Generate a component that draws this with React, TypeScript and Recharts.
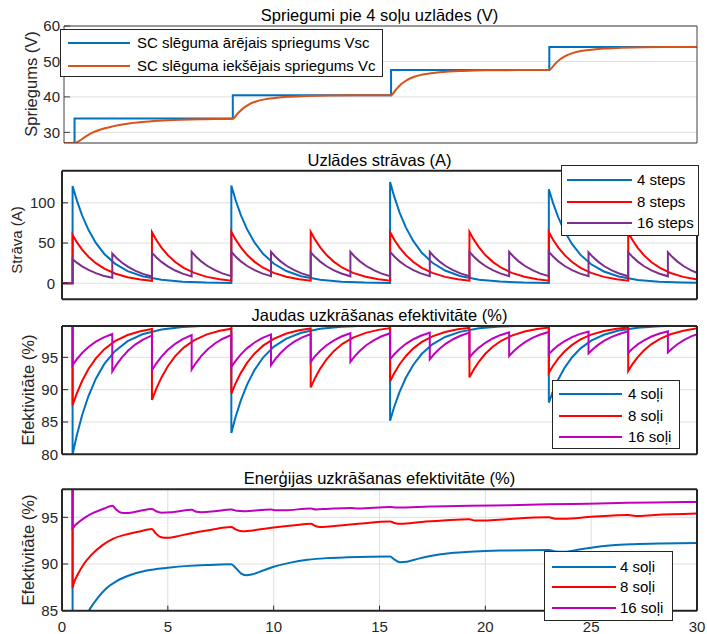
import { LineChart, Line, XAxis, YAxis, CartesianGrid, Legend } from 'recharts'

type Pt = [number, number]
type Row = { t: number; v: number }

const W = 707
const H = 634
const PLOT_R = 697

const xTicks = [0, 5, 10, 15, 20, 25, 30]

const titles = [
  'Spriegumi pie 4 soļu uzlādes (V)',
  'Uzlādes strāvas (A)',
  'Jaudas uzkrāšanas efektivitāte (%)',
  'Enerģijas uzkrāšanas efektivitāte (%)',
]
const yLabels = ['Spriegums (V)', 'Strāva (A)', 'Efektivitāte (%)', 'Efektivitāte (%)']
const voltNames = ['SC slēguma ārējais spriegums Vsc', 'SC slēguma iekšējais spriegums Vc']
const stepNames = ['4 steps', '8 steps', '16 steps']
const soliNames = ['4 soļi', '8 soļi', '16 soļi']

// --- panel 1: voltages
const vscPts: Pt[] = [
  [0, 27], [0.5, 27], [0.5, 33.9], [8, 33.9], [8, 40.5], [15.5, 40.5],
  [15.5, 47.6], [23, 47.6], [23, 54.1], [30, 54.1],
]
const vcPts: Pt[] = [
  [0, 27], [0.5, 27], [0.75, 27.69], [1, 28.73], [1.3, 29.76], [1.7, 30.73], [2.3, 31.69],
  [3, 32.45], [3.7, 32.93], [4.5, 33.28], [5.5, 33.56], [6.5, 33.73], [8, 33.87],
  [8.25, 35.45], [8.5, 36.84], [8.75, 37.84], [9.1, 38.7], [9.5, 39.3], [10, 39.7],
  [10.6, 40.03], [11.4, 40.23], [12.5, 40.4], [14, 40.47], [15.5, 40.5],
  [15.75, 42.2], [16, 43.7], [16.25, 44.76], [16.6, 45.68], [17, 46.32], [17.5, 46.75],
  [18.1, 47.1], [18.9, 47.32], [20, 47.5], [21.5, 47.56], [23, 47.6],
  [23.25, 49.16], [23.5, 50.53], [23.75, 51.5], [24.1, 52.35], [24.5, 52.93], [25, 53.32],
  [25.6, 53.65], [26.4, 53.84], [27.5, 54.0], [29, 54.07], [30, 54.1],
]

// step start times and sample offsets inside one step
const steps4 = [0.5, 8, 15.5, 23]
const steps8 = [0.5, 4.25, 8, 11.75, 15.5, 19.25, 23, 26.75]
const steps16 = [0.5, 2.375, 4.25, 6.125, 8, 9.875, 11.75, 13.625, 15.5, 17.375, 19.25, 21.125, 23, 24.875, 26.75, 28.625]
const dt4 = [0, 0.2, 0.45, 0.75, 1.1, 1.5, 2, 2.6, 3.3, 4.2, 5.2, 6.3, 7.5]
const dt8 = [0, 0.2, 0.45, 0.75, 1.1, 1.5, 2, 2.6, 3.2, 3.75]
const dt16 = [0, 0.2, 0.45, 0.75, 1.1, 1.45, 1.875]

// --- panel 2: currents, one row per step
const cur4Segs = [
  [121, 103.1, 84.5, 66.4, 50.2, 36.4, 24.4, 15.1, 8.6, 4.2, 1.9, 0.8, 0.3],
  [121.5, 103.5, 84.8, 66.7, 50.4, 36.6, 24.5, 15.2, 8.7, 4.2, 1.9, 0.8, 0.3],
  [126, 107.4, 87.9, 69.2, 52.3, 37.9, 25.5, 15.8, 9.0, 4.4, 2.0, 0.8, 0.3],
  [117, 99.7, 81.7, 64.2, 48.6, 35.2, 23.6, 14.6, 8.4, 4.1, 1.8, 0.8, 0.3],
]
const cur8Segs = [
  [60, 51.1, 41.9, 32.9, 24.9, 18.1, 12.1, 7.5, 4.6, 3.0],
  [63.5, 54.1, 44.3, 34.9, 26.4, 19.1, 12.8, 7.9, 4.9, 3.2],
  [64, 54.5, 44.7, 35.1, 26.6, 19.3, 12.9, 8.0, 4.9, 3.2],
  [64, 54.5, 44.7, 35.1, 26.6, 19.3, 12.9, 8.0, 4.9, 3.2],
  [63.5, 54.1, 44.3, 34.9, 26.4, 19.1, 12.8, 7.9, 4.9, 3.2],
  [64, 54.5, 44.7, 35.1, 26.6, 19.3, 12.9, 8.0, 4.9, 3.2],
  [63.5, 54.1, 44.3, 34.9, 26.4, 19.1, 12.8, 7.9, 4.9, 3.2],
  [63, 53.7, 44.0, 34.6, 26.1, 19.0, 12.7, 7.9, 4.9, 3.1],
]
const cur16Segs = [
  [30, 25.6, 20.9, 16.5, 12.5, 9.4, 6.7],
  [37, 31.5, 25.8, 20.3, 15.4, 11.6, 8.3],
  [38, 32.4, 26.5, 20.9, 15.8, 11.9, 8.5],
  [39, 33.2, 27.2, 21.4, 16.2, 12.2, 8.7],
  [39, 33.2, 27.2, 21.4, 16.2, 12.2, 8.7],
  [39, 33.2, 27.2, 21.4, 16.2, 12.2, 8.7],
  [38.5, 32.8, 26.9, 21.1, 16.0, 12.1, 8.6],
  [39, 33.2, 27.2, 21.4, 16.2, 12.2, 8.7],
  [39, 33.2, 27.2, 21.4, 16.2, 12.2, 8.7],
  [39, 33.2, 27.2, 21.4, 16.2, 12.2, 8.7],
  [39, 33.2, 27.2, 21.4, 16.2, 12.2, 8.7],
  [39, 33.2, 27.2, 21.4, 16.2, 12.2, 8.7],
  [39, 33.2, 27.2, 21.4, 16.2, 12.2, 8.7],
  [38.5, 32.8, 26.9, 21.1, 16.0, 12.1, 8.6],
  [38.5, 32.8, 26.9, 21.1, 16.0, 12.1, 8.6],
  [38.5, 32.8, 26.9, 21.1, 16.0, 12.1, 8.6],
]

// --- panel 3: power efficiency, one row per step
const eff4Segs = [
  [80, 82.96, 86.04, 89.02, 91.7, 93.98, 95.96, 97.5, 98.57, 99.31, 99.69, 99.87, 99.95],
  [83.3, 85.77, 88.34, 90.83, 93.07, 94.97, 96.63, 97.91, 98.81, 99.42, 99.74, 99.89, 99.96],
  [85.2, 87.39, 89.67, 91.87, 93.86, 95.55, 97.01, 98.15, 98.94, 99.49, 99.77, 99.9, 99.96],
  [88, 89.78, 91.62, 93.41, 95.02, 96.39, 97.58, 98.5, 99.14, 99.58, 99.81, 99.92, 99.97],
]
const eff8Segs = [
  [87.6, 89.43, 91.34, 93.19, 94.85, 96.27, 97.5, 98.45, 99.04, 99.38],
  [88.4, 90.12, 91.9, 93.63, 95.19, 96.51, 97.66, 98.55, 99.1, 99.42],
  [89.4, 90.97, 92.6, 94.18, 95.6, 96.81, 97.86, 98.68, 99.18, 99.47],
  [90.35, 91.78, 93.26, 94.7, 95.99, 97.1, 98.05, 98.79, 99.25, 99.52],
  [91.3, 92.59, 93.93, 95.22, 96.39, 97.38, 98.24, 98.91, 99.33, 99.57],
  [91.9, 93.1, 94.35, 95.55, 96.64, 97.56, 98.36, 98.99, 99.37, 99.6],
  [92.6, 93.7, 94.83, 95.94, 96.93, 97.77, 98.51, 99.08, 99.43, 99.63],
  [92.9, 93.95, 95.04, 96.1, 97.05, 97.86, 98.57, 99.11, 99.45, 99.65],
]
const eff16Segs = [
  [93.8, 94.72, 95.67, 96.6, 97.43, 98.06, 98.62],
  [92.8, 93.87, 94.97, 96.05, 97.01, 97.75, 98.39],
  [93.0, 94.04, 95.11, 96.16, 97.1, 97.81, 98.44],
  [93.1, 94.12, 95.18, 96.21, 97.14, 97.84, 98.46],
  [93.5, 94.46, 95.46, 96.43, 97.3, 97.97, 98.55],
  [93.8, 94.72, 95.67, 96.6, 97.43, 98.06, 98.62],
  [94.3, 95.14, 96.02, 96.87, 97.63, 98.22, 98.73],
  [94.3, 95.14, 96.02, 96.87, 97.63, 98.22, 98.73],
  [94.7, 95.48, 96.3, 97.09, 97.8, 98.34, 98.82],
  [94.7, 95.48, 96.3, 97.09, 97.8, 98.34, 98.82],
  [95.0, 95.74, 96.51, 97.25, 97.92, 98.43, 98.88],
  [95.2, 95.91, 96.65, 97.36, 98.01, 98.5, 98.93],
  [95.5, 96.17, 96.86, 97.53, 98.13, 98.59, 99.0],
  [95.6, 96.25, 96.93, 97.58, 98.17, 98.62, 99.02],
  [95.7, 96.34, 97.0, 97.64, 98.22, 98.65, 99.04],
  [95.75, 96.38, 97.03, 97.67, 98.24, 98.67, 99.05],
]

// --- panel 4: energy efficiency
const en4Pts: Pt[] = [
  [0.5, 100], [0.5, 80], [0.55, 80.5], [0.7, 81.8], [0.9, 83.2], [1.1, 84.3], [1.35, 85.3],
  [1.7, 86.4], [2.1, 87.4], [2.6, 88.2], [3.2, 88.8], [4, 89.3], [5, 89.6], [6, 89.8],
  [7, 89.9], [8, 89.97], [8.2, 89.6], [8.45, 89.0], [8.7, 88.8], [9, 88.9], [9.5, 89.3],
  [10, 89.7], [10.8, 90.15], [11.6, 90.45], [12.5, 90.63], [13.5, 90.72], [15.5, 90.8],
  [15.7, 90.5], [15.95, 90.2], [16.3, 90.25], [16.8, 90.55], [17.4, 90.85], [18.3, 91.15],
  [19.5, 91.35], [21, 91.45], [23, 91.5], [23.3, 91.35], [23.7, 91.3], [24.2, 91.45],
  [25, 91.75], [26, 92.0], [27, 92.12], [28.3, 92.2], [30, 92.25],
]
const en8Pts: Pt[] = [
  [0.5, 100], [0.5, 87.5], [0.55, 87.9], [0.75, 88.9], [1, 89.9], [1.4, 91.0], [1.9, 92.0],
  [2.4, 92.7], [3, 93.15], [3.6, 93.45], [4.25, 93.75], [4.4, 93.35], [4.65, 92.9],
  [4.95, 92.8], [5.4, 92.95], [6, 93.25], [7, 93.65], [8, 93.95], [8.2, 93.7], [8.5, 93.5],
  [9, 93.6], [10, 93.9], [11, 94.15], [11.75, 94.3], [12, 94.05], [12.3, 93.95], [13, 94.1],
  [14, 94.3], [15.5, 94.55], [15.7, 94.4], [16, 94.3], [17, 94.5], [18, 94.65], [19.25, 94.8],
  [19.5, 94.65], [20, 94.65], [21, 94.8], [23, 95.0], [23.3, 94.85], [23.7, 94.85],
  [25, 95.05], [26.75, 95.25], [27.1, 95.15], [28, 95.25], [30, 95.4],
]
const en16Pts: Pt[] = [
  [0.5, 100], [0.5, 93.75], [0.55, 93.95], [0.8, 94.5], [1.1, 95.0], [1.5, 95.5], [2, 95.95],
  [2.375, 96.25], [2.55, 95.85], [2.8, 95.5], [3.1, 95.45], [3.6, 95.65], [4.25, 95.9],
  [4.45, 95.65], [4.7, 95.5], [5.2, 95.55], [6.125, 95.8], [6.35, 95.6], [6.6, 95.55],
  [7.2, 95.65], [8, 95.85], [8.25, 95.7], [8.6, 95.65], [9.875, 95.85], [10.1, 95.75],
  [10.5, 95.75], [11.75, 95.95], [12, 95.85], [12.5, 95.9], [13.625, 96.0], [14, 95.95],
  [15.5, 96.1], [15.8, 96.05], [17.375, 96.15], [19.25, 96.25], [21.125, 96.3], [23, 96.4],
  [24.875, 96.45], [26.75, 96.55], [28.625, 96.6], [30, 96.65],
]

const toRows = (pts: Pt[]): Row[] => pts.map(([t, v]) => ({ t, v }))
const fromSteps = (lead: Pt[], starts: number[], offs: number[], segs: number[][]): Row[] => {
  const pts: Pt[] = [...lead]
  starts.forEach((t0, i) => segs[i].forEach((v, j) => pts.push([t0 + offs[j], v])))
  return toRows(pts)
}

const BLUE = '#0072BD'
const ORANGE = '#D95319'
const RED = '#FF0000'
const PURPLE = '#7E2F8E'
const MAGENTA = '#BF00BF'

interface SeriesCfg { name: string; color: string; rows: Row[]; curve: 'linear' | 'monotone' }
interface LegendCfg { left: number; top: number; width: number; height: number; rowY: number[]; lineX: [number, number]; textX: number }
interface PanelCfg {
  top: number; bottom: number; left: number
  yDomain: [number, number]; yTicks: number[]; labelGap: number
  frame: string; frameW: number; xLabels: boolean
  titleY: number; labelX: number; labelY: number; labelSize: number
  series: SeriesCfg[]; legend: LegendCfg
}

const zero: Pt[] = [[0, 0], [0.5, 0]]
const full: Pt[] = [[0.5, 100]]

const panels: PanelCfg[] = [
  {
    top: 26, bottom: 143, left: 64, yDomain: [27, 60], yTicks: [30, 40, 50, 60], labelGap: 4,
    frame: '#404040', frameW: 1, xLabels: false, titleY: 21, labelX: 37, labelY: 84, labelSize: 16.5,
    series: [
      { name: voltNames[0], color: BLUE, rows: toRows(vscPts), curve: 'linear' },
      { name: voltNames[1], color: ORANGE, rows: toRows(vcPts), curve: 'monotone' },
    ],
    legend: { left: 60, top: 29, width: 323, height: 48, rowY: [13, 35.5], lineX: [7, 69], textX: 76 },
  },
  {
    top: 170.7, bottom: 299.3, left: 62, yDomain: [-20, 140], yTicks: [0, 50, 100], labelGap: 7,
    frame: '#262626', frameW: 2, xLabels: false, titleY: 165.5, labelX: 22, labelY: 240, labelSize: 15,
    series: [
      { name: stepNames[0], color: BLUE, rows: fromSteps(zero, steps4, dt4, cur4Segs), curve: 'linear' },
      { name: stepNames[1], color: RED, rows: fromSteps(zero, steps8, dt8, cur8Segs), curve: 'linear' },
      { name: stepNames[2], color: PURPLE, rows: fromSteps(zero, steps16, dt16, cur16Segs), curve: 'linear' },
    ],
    legend: { left: 561, top: 165, width: 138, height: 71, rowY: [14, 35.7, 56.7], lineX: [5.3, 70], textX: 75 },
  },
  {
    top: 326, bottom: 454.3, left: 62, yDomain: [80, 99.85], yTicks: [80, 85, 90, 95], labelGap: 4,
    frame: '#262626', frameW: 2, xLabels: false, titleY: 320.5, labelX: 34, labelY: 390, labelSize: 16.5,
    series: [
      { name: soliNames[0], color: BLUE, rows: fromSteps(full, steps4, dt4, eff4Segs), curve: 'linear' },
      { name: soliNames[1], color: RED, rows: fromSteps(full, steps8, dt8, eff8Segs), curve: 'linear' },
      { name: soliNames[2], color: MAGENTA, rows: fromSteps(full, steps16, dt16, eff16Segs), curve: 'linear' },
    ],
    legend: { left: 552, top: 380, width: 128, height: 69, rowY: [13.3, 35, 55.5], lineX: [6, 69.4], textX: 75 },
  },
  {
    top: 489.3, bottom: 610.7, left: 62, yDomain: [85, 98], yTicks: [85, 90, 95], labelGap: 4,
    frame: '#262626', frameW: 2, xLabels: true, titleY: 483.7, labelX: 34, labelY: 550, labelSize: 16.5,
    series: [
      { name: soliNames[0], color: BLUE, rows: toRows(en4Pts), curve: 'monotone' },
      { name: soliNames[1], color: RED, rows: toRows(en8Pts), curve: 'monotone' },
      { name: soliNames[2], color: MAGENTA, rows: toRows(en16Pts), curve: 'monotone' },
    ],
    legend: { left: 544, top: 551, width: 129, height: 70, rowY: [14.7, 34.7, 55.7], lineX: [6.7, 71], textX: 75 },
  },
]

function LegendBox({ cfg, series }: { cfg: LegendCfg; series: SeriesCfg[] }) {
  return (
    <div style={{ position: 'relative', width: cfg.width, height: cfg.height, boxSizing: 'border-box', border: '1px solid #262626', background: '#fff', textAlign: 'left' }}>
      {series.map((s, i) => (
        <div key={s.name}>
          <div style={{ position: 'absolute', left: cfg.lineX[0], top: cfg.rowY[i] - 1, width: cfg.lineX[1] - cfg.lineX[0], height: 2, background: s.color }} />
          <div
            style={{
              position: 'absolute', left: cfg.textX, top: cfg.rowY[i] - 9, width: cfg.width - cfg.textX,
              height: 18, lineHeight: '18px', fontSize: 15, whiteSpace: 'nowrap', color: '#000', textAlign: 'left',
            }}
          >
            {s.name}
          </div>
        </div>
      ))}
    </div>
  )
}

function Panel({ p }: { p: PanelCfg }) {
  const tickStyle = { fontSize: 15, fill: '#262626' }
  const frame = { stroke: p.frame, strokeWidth: p.frameW }
  return (
    <div style={{ position: 'absolute', left: 0, top: 0 }}>
      <LineChart width={W} height={H} margin={{ top: p.top - 1, right: W - PLOT_R - 1, bottom: H - p.bottom - 20, left: p.left - 60 }}>
        <CartesianGrid stroke="#dfdfdf" vertical={p.xLabels} />
        <XAxis
          dataKey="t" type="number" domain={[0, 30]} ticks={xTicks} allowDataOverflow height={20}
          axisLine={frame} tickLine={p.xLabels ? { stroke: p.frame } : false} tickSize={-5} tickMargin={16}
          tick={p.xLabels ? tickStyle : false} interval={0}
        />
        <XAxis
          xAxisId="top" orientation="top" type="number" domain={[0, 30]} ticks={xTicks} allowDataOverflow height={1}
          axisLine={frame} tickLine={p.xLabels ? { stroke: p.frame } : false} tickSize={-5} tick={false}
        />
        <YAxis
          type="number" domain={p.yDomain} ticks={p.yTicks} allowDataOverflow width={60}
          axisLine={frame} tickLine={{ stroke: p.frame }} tickSize={-6} tickMargin={p.labelGap + 6} tick={tickStyle}
        />
        <YAxis
          yAxisId="r" orientation="right" type="number" domain={p.yDomain} ticks={p.yTicks} allowDataOverflow width={1}
          axisLine={frame} tickLine={{ stroke: p.frame }} tickSize={-6} tick={false}
        />
        {p.series.map((s) => (
          <Line
            key={s.name} name={s.name} data={s.rows} dataKey="v" type={s.curve}
            stroke={s.color} strokeWidth={2} dot={false} activeDot={false} isAnimationActive={false}
          />
        ))}
        <Legend
          layout="horizontal" verticalAlign="middle" align="center"
          wrapperStyle={{ left: p.legend.left, top: p.legend.top, width: p.legend.width, height: p.legend.height }}
          content={() => <LegendBox cfg={p.legend} series={p.series} />}
        />
      </LineChart>
    </div>
  )
}

export default function App() {
  const cx = (64 + PLOT_R) / 2 - 1
  return (
    <div style={{ position: 'absolute', left: 0, top: 0, width: W, height: H, background: '#fff', fontFamily: "'Liberation Sans', Arial, sans-serif" }}>
      {panels.map((p, i) => <Panel key={i} p={p} />)}
      <svg width={W} height={H} style={{ position: 'absolute', left: 0, top: 0, pointerEvents: 'none' }}>
        {panels.map((p, i) => (
          <g key={i} fill="#000">
            <text x={cx} y={p.titleY} textAnchor="middle" fontSize={16.5}>{titles[i]}</text>
            <text
              transform={`translate(${p.labelX},${p.labelY}) rotate(-90)`}
              textAnchor="middle" fill="#262626" fontSize={p.labelSize}
            >
              {yLabels[i]}
            </text>
          </g>
        ))}
      </svg>
    </div>
  )
}
